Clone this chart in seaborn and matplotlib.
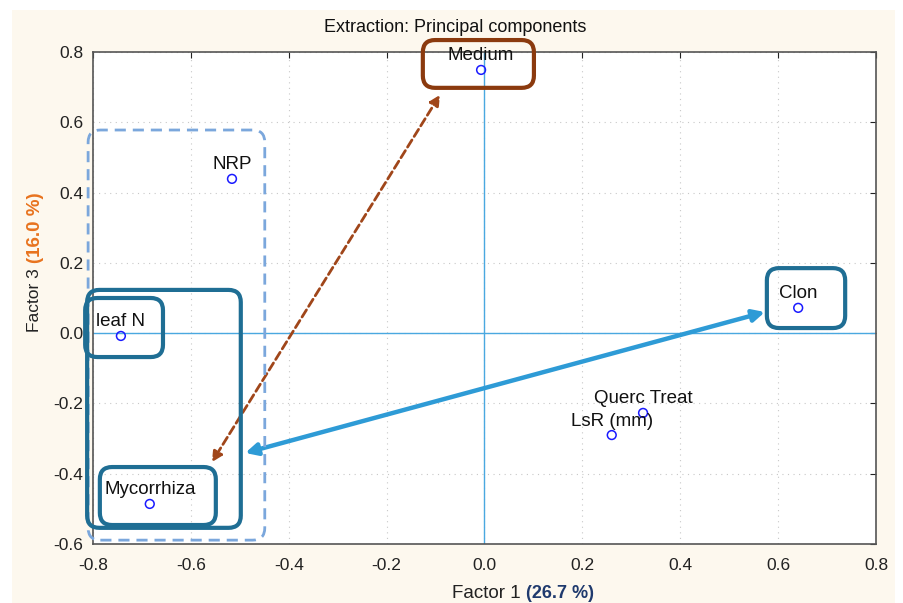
import numpy as np
import pandas as pd
import matplotlib
matplotlib.use('Agg')
import matplotlib.pyplot as plt
import seaborn as sns
from matplotlib.patches import FancyBboxPatch, Rectangle

# Cargas factoriales (Factor 1 vs Factor 3)
variables = ['Medium', 'NRP', 'leaf N', 'Mycorrhiza', 'Clon', 'Querc Treat', 'LsR (mm)']
factor1 = [-0.007, -0.516, -0.743, -0.684, 0.641, 0.324, 0.260]
factor3 = [0.749, 0.439, -0.008, -0.486, 0.072, -0.227, -0.290]

x_ticks = [-0.8, -0.6, -0.4, -0.2, 0.0, 0.2, 0.4, 0.6, 0.8]
y_ticks = [-0.6, -0.4, -0.2, 0.0, 0.2, 0.4, 0.6, 0.8]

df = pd.DataFrame({'variable': variables, 'f1': factor1, 'f3': factor3})

sns.set_style('white')
plt.rcParams['font.family'] = ['Liberation Sans Narrow', 'Liberation Sans', 'DejaVu Sans']

W, H = 904, 603
fig = plt.figure(figsize=(W / 100, H / 100), dpi=100, facecolor='white')
# fondo crema
fig.patches.append(Rectangle((12 / W, 0), (895 - 12) / W, 1 - 10 / H, transform=fig.transFigure,
                             facecolor='#fdf8ee', edgecolor='none', zorder=-10))

ax = fig.add_axes([93 / W, 1 - 544 / H, (876 - 93) / W, (544 - 52) / H])
ax.set_facecolor('white')

ax.axvline(0, color='#4aa8e0', lw=1, zorder=1)
ax.axhline(0, color='#4aa8e0', lw=1, zorder=1)

sns.scatterplot(data=df, x='f1', y='f3', ax=ax, marker='o', s=40,
                facecolor='none', edgecolor='#1a1aff', linewidth=1.1, zorder=5)

for _, r in df.iterrows():
    ax.annotate(r['variable'], (r['f1'], r['f3']), xytext=(0, 4), textcoords='offset points',
                ha='center', va='bottom', fontsize=13.5, family=['Liberation Sans', 'DejaVu Sans'],
                color='#111111', zorder=6)

ax.set_xlim(-0.8, 0.8)
ax.set_ylim(-0.6, 0.8)
ax.set_xticks(x_ticks)
ax.set_yticks(y_ticks)
ax.set_xticklabels([f'{v:.1f}' for v in x_ticks])
ax.set_yticklabels([f'{v:.1f}' for v in y_ticks])
ax.tick_params(direction='in', top=True, right=True, length=4, labelsize=12.5, colors='#222222')
ax.tick_params(axis='x', pad=10)
ax.tick_params(axis='y', pad=7)
ax.grid(True, linestyle=(0, (1, 4)), color='#c8c8c8', lw=0.8)
for s in ax.spines.values():
    s.set_color('#555555')
    s.set_linewidth(1.2)
ax.set_xlabel('')
ax.set_ylabel('')

# cajas redondeadas
asp = (1.4 / 492) / (1.6 / 783)


def caja(x0, y0, x1, y1, color, lw=3, ls='-'):
    p = FancyBboxPatch((x0, y0), x1 - x0, y1 - y0,
                       boxstyle='round,pad=0,rounding_size=0.025', mutation_aspect=asp,
                       facecolor='none', edgecolor=color, lw=lw, ls=ls, clip_on=False, zorder=4)
    ax.add_patch(p)


caja(-0.810, -0.589, -0.449, 0.578, '#7ba7dc', lw=2, ls=(0, (4, 2.5)))
caja(-0.812, -0.554, -0.498, 0.123, '#1f6e94')
caja(-0.816, -0.068, -0.657, 0.100, '#1f6e94')
caja(-0.786, -0.546, -0.549, -0.381, '#1f6e94')
caja(0.577, 0.0145, 0.737, 0.185, '#1f6e94')
caja(-0.126, 0.698, 0.101, 0.834, '#8b3a0e')

# flechas
ax.annotate('', xy=(-0.557, -0.367), xytext=(-0.091, 0.678),
            arrowprops=dict(arrowstyle='<|-|>,head_length=0.6,head_width=0.3', color='#a0461a',
                            lw=2, ls=(0, (3, 1.5)), shrinkA=0, shrinkB=0), zorder=3)
ax.annotate('', xy=(-0.489, -0.341), xytext=(0.573, 0.060),
            arrowprops=dict(arrowstyle='<|-|>,head_length=0.7,head_width=0.35', color='#2e9bd6',
                            lw=3.2, shrinkA=0, shrinkB=0), zorder=3)

# titulo
fig.text(455 / W, 1 - 28 / H, 'Extraction: Principal components', ha='center', va='center',
         fontsize=13, color='#111111')

# etiquetas de ejes
t1 = fig.text(452 / W, 1 - 593 / H, 'Factor 1 ', ha='left', va='center', fontsize=13.5,
              color='#222222')
ax.annotate('(26.7 %)', xy=(1, 0), xycoords=t1, va='bottom', ha='left', fontsize=13,
            fontweight='bold', color='#1f3a6e', annotation_clip=False)

t3 = fig.text(35 / W, 1 - 332 / H, 'Factor 3 ', ha='center', va='bottom', rotation=90,
              fontsize=12.5, family=['Liberation Sans', 'DejaVu Sans'], color='#222222')
ax.annotate('(16.0 %)', xy=(0, 1), xycoords=t3, va='bottom', ha='left', rotation=90,
            fontsize=13.5, fontweight='bold', family=['Liberation Sans', 'DejaVu Sans'],
            color='#e8731e', annotation_clip=False)

fig.savefig('out.png', dpi=100, facecolor=fig.get_facecolor())
